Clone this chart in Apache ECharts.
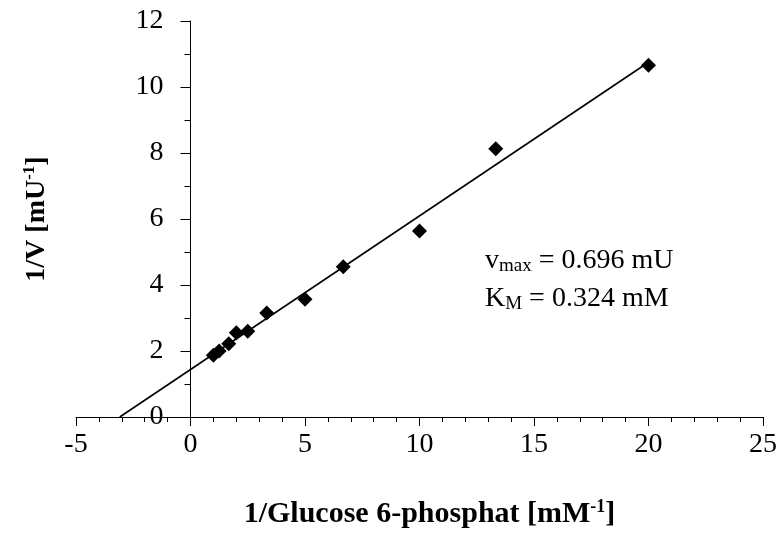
<!DOCTYPE html>
<html>
<head>
<meta charset="utf-8">
<script src="https://cdn.jsdelivr.net/npm/echarts@6/dist/echarts.min.js"></script>
<style>
  html, body { margin: 0; padding: 0; background: #fff; }
  #chart { width: 780px; height: 543px; }
</style>
</head>
<body>
<div id="chart"></div>
<script>
// 1/[S] values (mM^-1) and 1/v values (mU^-1)
const invSubstrate = [1, 1.25, 1.67, 2, 2.5, 3.33, 5, 6.67, 10, 13.33, 20]
const invVelocity = [1.87, 2.0, 2.22, 2.55, 2.6, 3.15, 3.57, 4.55, 5.64, 8.13, 10.66]

// Lineweaver-Burk fit line end points
const fitX = [-3.09, 20]
const fitY = [0, 10.75]

const xTicks = { min: -5, max: 25, interval: 5 }
const yTicks = { min: 0, max: 12, interval: 2 }

const vmaxText = '0.696 mU'
const kmText = '0.324 mM'

const serif = '"Liberation Serif", "Times New Roman", serif'
const black = '#000'

// the y axis sits at x = 0, which is this many px right of the grid's left edge
const gridLeft = 76
const gridRight = 17
const plotWidth = 780 - gridLeft - gridRight
const yAxisShift = plotWidth * (0 - xTicks.min) / (xTicks.max - xTicks.min)

const chart = echarts.init(document.getElementById('chart'))

const option = {
  animation: false,
  backgroundColor: '#fff',
  grid: {
    left: gridLeft,
    right: gridRight,
    top: 21,
    bottom: 126,
    containLabel: false,
    outerBoundsMode: 'none'
  },
  xAxis: {
    type: 'value',
    min: xTicks.min,
    max: xTicks.max,
    interval: xTicks.interval,
    name: '{b|1/Glucose 6-phosphat [mM}{sup|-1}{b|]}',
    nameLocation: 'middle',
    nameGap: 81,
    nameTextStyle: {
      padding: [0, 0, 0, 20],
      rich: {
        b: { fontFamily: serif, fontSize: 30, fontWeight: 'bold', color: black },
        sup: { fontFamily: serif, fontSize: 18, fontWeight: 'bold', color: black, padding: [0, 0, 14, 0] }
      }
    },
    axisLine: { onZero: true, lineStyle: { color: black, width: 1 } },
    axisTick: { show: true, inside: false, length: 9, lineStyle: { color: black } },
    minorTick: { show: true, splitNumber: 5, length: 5, lineStyle: { color: black } },
    splitLine: { show: false },
    axisLabel: {
      margin: 14,
      fontFamily: serif,
      fontSize: 28,
      color: black
    }
  },
  yAxis: {
    type: 'value',
    min: yTicks.min,
    max: yTicks.max,
    interval: yTicks.interval,
    offset: -yAxisShift,
    name: '{b|1/V [mU}{sup|-1}{b|]}',
    nameLocation: 'middle',
    nameRotate: 90,
    nameGap: 138,
    nameTextStyle: {
      rich: {
        b: { fontFamily: serif, fontSize: 28, fontWeight: 'bold', color: black },
        sup: { fontFamily: serif, fontSize: 17, fontWeight: 'bold', color: black, padding: [0, 0, 14, 0] }
      }
    },
    axisLine: { show: true, onZero: false, lineStyle: { color: black, width: 1 } },
    axisTick: { show: true, inside: false, length: 10, lineStyle: { color: black } },
    minorTick: { show: true, splitNumber: 2, length: 6, lineStyle: { color: black } },
    splitLine: { show: false },
    axisLabel: {
      margin: 27,
      fontFamily: serif,
      fontSize: 28,
      color: black
    }
  },
  series: [
    {
      name: 'Fit',
      type: 'line',
      data: fitX.map((x, i) => [x, fitY[i]]),
      showSymbol: false,
      symbol: 'none',
      lineStyle: { color: black, width: 1.6 },
      z: 2
    },
    {
      name: 'Messwerte',
      type: 'scatter',
      data: invSubstrate.map((x, i) => [x, invVelocity[i]]),
      symbol: 'diamond',
      symbolSize: [15, 15],
      itemStyle: { color: black, opacity: 1 },
      z: 3
    }
  ],
  graphic: [
    {
      type: 'text',
      left: 485,
      top: 247,
      style: {
        text: '{a|v}{s|max}{a| = ' + vmaxText + '}',
        rich: {
          a: { fontFamily: serif, fontSize: 28, color: black },
          s: { fontFamily: serif, fontSize: 19, color: black, padding: [10, 0, 0, 0] }
        }
      }
    },
    {
      type: 'text',
      left: 485,
      top: 285,
      style: {
        text: '{a|K}{s|M}{a| = ' + kmText + '}',
        rich: {
          a: { fontFamily: serif, fontSize: 28, color: black },
          s: { fontFamily: serif, fontSize: 19, color: black, padding: [10, 0, 0, 0] }
        }
      }
    }
  ]
}

chart.setOption(option)

window.addEventListener('resize', () => chart.resize())
</script>
</body>
</html>
